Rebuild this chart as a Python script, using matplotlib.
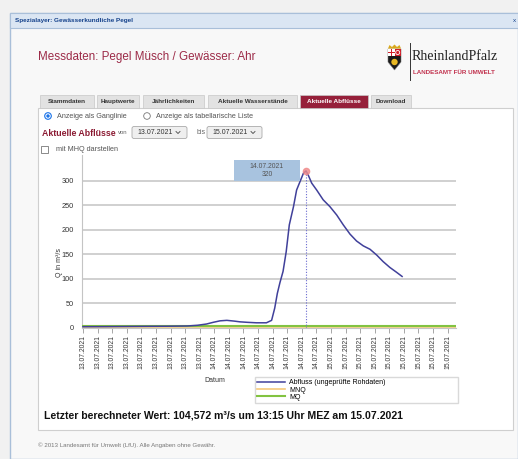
import numpy as np
import matplotlib
matplotlib.use("Agg")
import matplotlib.pyplot as plt
from matplotlib.patches import Rectangle, Circle, Polygon, FancyBboxPatch
import matplotlib.transforms as mtrans

plt.rcParams['font.family'] = ['Liberation Sans', 'DejaVu Sans']

# discharge at gauge Muesch (hours since 13.07.2021 00:00, m3/s)
t_hours = [0, 4, 8, 12, 16, 20, 22, 23.7, 25, 26.3, 27.6, 29, 30.1, 31.5, 33.3,
           35.2, 36.2, 36.8, 37.3, 37.8, 38.4, 39.0, 39.6, 40.4, 41.0, 41.65,
           42.3, 42.8, 43.25, 43.9, 44.85, 46.1, 47.4, 48.7, 49.95, 51.25, 52.5,
           53.8, 55.1, 56.4, 57.6, 58.9, 60.2, 61.25]
q_flow = [2.0, 2.2, 2.5, 2.8, 3.0, 3.5, 5, 7.5, 11, 14, 15, 13.5, 12, 11, 10,
          10, 15, 40, 70, 92, 115, 155, 210, 247, 281, 298,
          315, 320, 311, 295, 281, 261, 247, 230, 210, 191, 177,
          167, 160, 148, 135, 123, 113, 104.6]
mnq = 0.6
mq = 3.1

y_ticks = [0, 50, 100, 150, 200, 250, 300]
tick_labels = ["13.07.2021"] * 9 + ["14.07.2021"] * 8 + ["15.07.2021"] * 9
tick_hours = np.arange(len(tick_labels)) * 2.8

tabs = ["Stammdaten", "Hauptwerte", "Jährlichkeiten", "Aktuelle Wasserstände",
        "Aktuelle Abflüsse", "Download"]
tab_x = [(40, 94), (97, 139), (143, 204), (208, 297), (300, 368), (371, 411)]
active_tab = "Aktuelle Abflüsse"

W, H = 518, 459
fig = plt.figure(figsize=(W / 100, H / 100), dpi=100)
fig.patch.set_facecolor('#f1f1f1')

#### UI frame (pixel coordinates, y downwards)
ui = fig.add_axes([0, 0, 1, 1], zorder=0)
ui.set_xlim(0, W)
ui.set_ylim(H, 0)
ui.axis('off')

ui.add_patch(Rectangle((10, 13), W - 10, H - 13, fc='#f8f8f8', ec='#a9bfd9', lw=1))
ui.add_patch(Rectangle((10, 13), W - 10, 15, fc='#dbe6f3', ec='#a9bfd9', lw=0.8))
ui.text(15, 20.5, "Spezialayer: Gewässerkundliche Pegel", fontsize=4.6,
        fontweight='bold', color='#15428b', va='center')
ui.text(513, 20.5, "x", fontsize=4.5, color='#15428b', va='center')

ui.text(38, 57, "Messdaten: Pegel Müsch / Gewässer: Ahr", fontsize=8.4,
        color='#9c2b48', va='center')

# logo
ui.add_patch(Polygon([(388, 49), (401, 49), (401, 62), (394.5, 70), (388, 62)],
                     closed=True, fc='#1a1a1a', ec='#777', lw=0.4))
ui.add_patch(Rectangle((388, 49), 6.5, 7, fc='white', ec='none'))
ui.add_patch(Rectangle((390.6, 49), 1.3, 7, fc='#d0202a', ec='none'))
ui.add_patch(Rectangle((388, 51.8), 6.5, 1.3, fc='#d0202a', ec='none'))
ui.add_patch(Rectangle((394.5, 49), 6.5, 7, fc='#d0202a', ec='none'))
ui.add_patch(Circle((397.7, 52.5), 2, fc='none', ec='white', lw=0.6))
ui.add_patch(Circle((394.5, 62), 3.2, fc='#e8b722', ec='none'))
ui.add_patch(Polygon([(388, 48.5), (389.5, 45), (392, 47), (394.5, 44.5), (397, 47),
                      (399.5, 45), (401, 48.5)], closed=True, fc='#d9a91e', ec='none'))
ui.plot([409.5, 409.5], [43, 80], color='#333', lw=0.7)
ui.text(412, 57, "RheinlandPfalz", fontsize=10, family='Liberation Serif',
        color='#222', va='center')
ui.text(413, 73, "LANDESAMT FÜR UMWELT", fontsize=4.5, fontweight='bold',
        color='#c23450', va='center')

# tabs and panel
ui.add_patch(Rectangle((38, 108), 475, 322, fc='white', ec='#cfcfcf', lw=0.8))
for name, (x0, x1) in zip(tabs, tab_x):
    on = name == active_tab
    ui.add_patch(Rectangle((x0, 95), x1 - x0, 13, fc='#96203a' if on else '#e2e2e2',
                           ec='#c8c8c8', lw=0.5))
    ui.text((x0 + x1) / 2, 101.5, name, fontsize=4.6, fontweight='bold',
            color='white' if on else '#333', ha='center', va='center')

# radio buttons
ui.add_patch(Circle((48, 116), 3.3, fc='white', ec='#1a73e8', lw=0.8))
ui.add_patch(Circle((48, 116), 1.7, fc='#1a73e8', ec='none'))
ui.text(57, 116, "Anzeige als Ganglinie", fontsize=5.2, color='#555', va='center')
ui.add_patch(Circle((147, 116), 3.3, fc='white', ec='#777', lw=0.6))
ui.text(156, 116, "Anzeige als tabellarische Liste", fontsize=5.2, color='#555', va='center')

ui.text(42, 133, "Aktuelle Abflüsse", fontsize=6.3, fontweight='bold',
        color='#8b1a32', va='center')
ui.text(118, 132.5, "von", fontsize=4.3, color='#666', va='center')
ui.text(197, 132.5, "bis", fontsize=5, color='#666', va='center')
for x0, label in [(132, "13.07.2021"), (207, "15.07.2021")]:
    ui.add_patch(FancyBboxPatch((x0, 126.5), 55, 12, boxstyle='round,pad=0,rounding_size=2',
                                fc='#efefef', ec='#aaaaaa', lw=0.6))
    ui.text(x0 + 5, 132.5, label, fontsize=5, color='#333', va='center')
    ui.plot([x0 + 44, x0 + 46, x0 + 48], [131.5, 133.5, 131.5], color='#444', lw=0.6)

ui.add_patch(Rectangle((41, 146), 7, 7, fc='white', ec='#777', lw=0.6))
ui.text(56, 149.5, "mit MHQ darstellen", fontsize=5.2, color='#555', va='center')

ui.text(44, 416, "Letzter berechneter Wert: 104,572 m³/s um 13:15 Uhr MEZ am 15.07.2021",
        fontsize=7.6, fontweight='bold', color='#111', va='center')
ui.text(38, 445, "© 2013 Landesamt für Umwelt (LfU). Alle Angaben ohne Gewähr.",
        fontsize=4.4, color='#777', va='center')

#### Chart
y0_px, y1_px = 327.7, 155
ax = fig.add_axes([82 / W, 1 - y0_px / H, (456 - 82) / W, (y0_px - y1_px) / H], zorder=1)
ax.set_facecolor('none')
ax.set_xlim(-0.2, 71.6)
ax.set_ylim(0, (y0_px - y1_px) / 0.49)

for v in y_ticks[1:]:
    ax.axhline(v, color='#c4c4c4', lw=1.1, zorder=1)

line_q, = ax.plot(t_hours, q_flow, color='#40409a', lw=1.1, zorder=4,
                  label='Abfluss (ungeprüfte Rohdaten)')
line_mnq = ax.axhline(mnq, color='#f6c97b', lw=1.2, zorder=2, label='MNQ')
line_mq = ax.axhline(mq, color='#82c341', lw=1.5, zorder=3, label='MQ')

# hover: peak marker, dotted drop line and tooltip
i_max = int(np.argmax(q_flow))
pt, pq = t_hours[i_max], q_flow[i_max]
ax.plot([pt, pt], [0, pq], color='#6a6ad0', lw=0.8, ls=(0, (1, 1.5)), zorder=5)
ax.plot(pt, pq, 'o', ms=4.5, color='#f08a8a', alpha=0.8, zorder=6)
tip = fig.dpi_scale_trans + mtrans.ScaledTranslation(pt, pq, ax.transData)
ax.add_patch(Rectangle((-0.72, -0.103), 0.66, 0.21, transform=tip, fc='#a8c3df',
                       ec='none', clip_on=False, zorder=7))
ax.text(-0.39, 0.002, "%s\n%d" % (tick_labels[15], pq), transform=tip, fontsize=4.9,
        color='#555', ha='center', va='center', linespacing=1.1, zorder=8)

ax.set_yticks(y_ticks)
ax.set_xticks(tick_hours)
ax.set_xticklabels(tick_labels, rotation=90, fontsize=4.9, color='#333')
ax.tick_params(axis='y', length=0, pad=6, labelsize=5.3, labelcolor='#333')
ax.tick_params(axis='x', length=3.5, width=0.6, color='#999', pad=1.5)
for side in ['top', 'right']:
    ax.spines[side].set_visible(False)
ax.spines['left'].set_color('#c4c4c4')
ax.spines['bottom'].set_color('#c4c4c4')

ax.set_ylabel("Q in m³/s", fontsize=5, color='#333', labelpad=8)
ax.yaxis.set_label_coords(-0.052, 0.38)
fig.text(215 / W, 1 - 381 / H, "Datum", fontsize=5, color='#333', ha='center', va='center')

fig.legend(handles=[line_q, line_mnq, line_mq],
           loc='lower left', bbox_to_anchor=(255 / W, 1 - 403 / H, 203 / W, 28 / H),
           mode='expand', fontsize=5, frameon=True, fancybox=False, edgecolor='#d0d0d0',
           handlelength=4, handletextpad=0.6, labelspacing=0.05, borderpad=0.3,
           borderaxespad=0)

fig.savefig("out.png", dpi=100, facecolor=fig.get_facecolor())
